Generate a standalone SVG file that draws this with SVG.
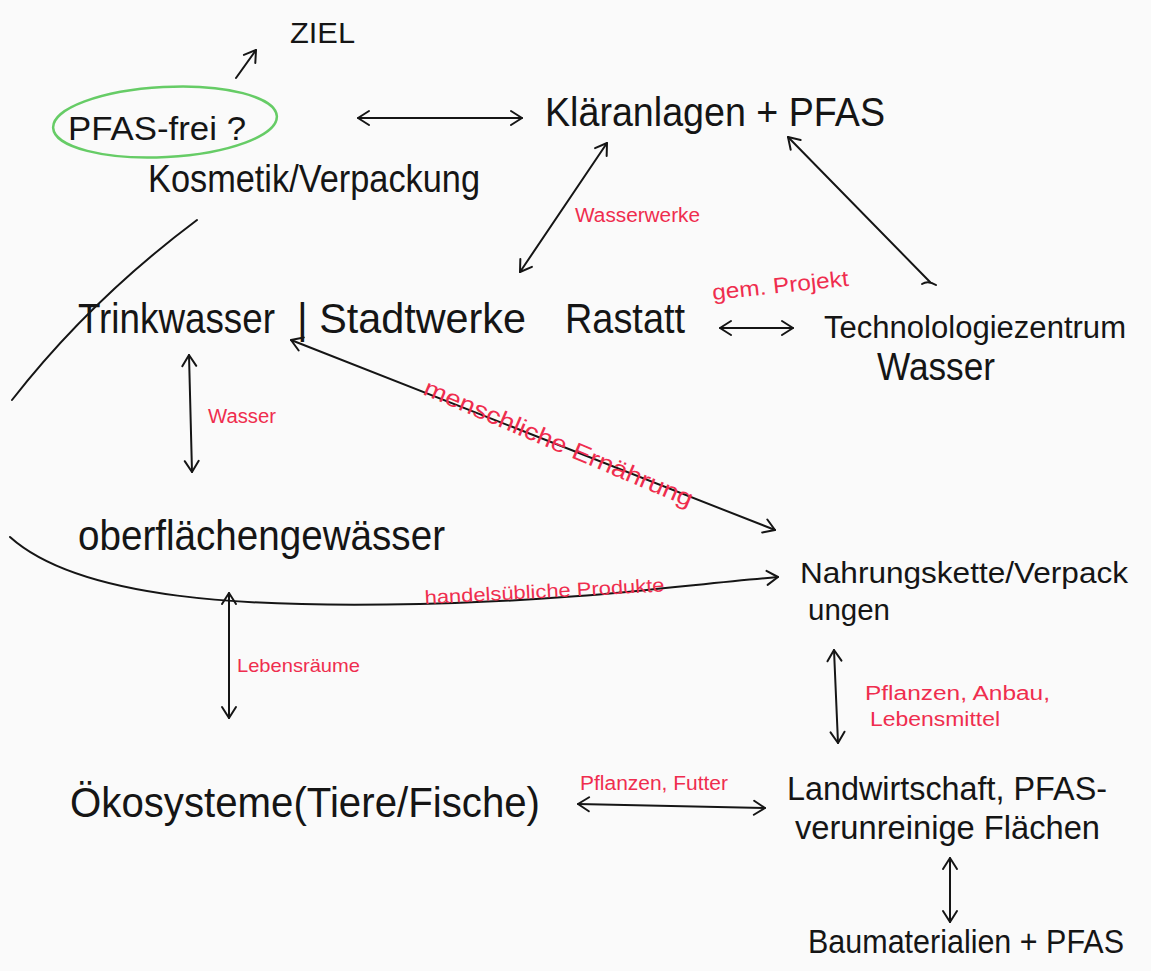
<svg xmlns="http://www.w3.org/2000/svg" width="1151" height="971" viewBox="0 0 1151 971">
<defs>
<style>
.t{font-family:"Liberation Sans","DejaVu Sans",sans-serif;fill:#151515}
.r{font-family:"Liberation Sans","DejaVu Sans",sans-serif;fill:#ef2d4e}
.c{fill:none;stroke:#151515;stroke-width:2;stroke-linecap:round}
</style>
<marker id="ah" markerUnits="userSpaceOnUse" markerWidth="18" markerHeight="18" refX="13" refY="8" orient="auto-start-reverse" viewBox="0 0 18 16">
<path d="M2,1 L13,8 L2,15" fill="none" stroke="#151515" stroke-width="2" stroke-linecap="round" stroke-linejoin="round"/>
</marker>
</defs>
<rect width="1151" height="971" fill="#fafafa"/>
<g id="connectors">
<path class="c" d="M236,78 L256,50" marker-end="url(#ah)"/>
<path class="c" d="M358,118 L522,118" marker-start="url(#ah)" marker-end="url(#ah)"/>
<path class="c" d="M520,272 L607,143" marker-start="url(#ah)" marker-end="url(#ah)"/>
<path class="c" d="M930,282 L788,137" marker-end="url(#ah)"/>
<path class="c" d="M922,284 Q928,280 936,285"/>
<path class="c" d="M720,328 L793,328" marker-start="url(#ah)" marker-end="url(#ah)"/>
<path class="c" d="M189,355 L192,472" marker-start="url(#ah)" marker-end="url(#ah)"/>
<path class="c" d="M291,340 L775,530" marker-start="url(#ah)" marker-end="url(#ah)"/>
<path class="c" d="M197,220 Q90,300 12,400"/>
<path class="c" d="M10,537 C80,600 250,608 420,604 S680,585 778,577" marker-end="url(#ah)"/>
<path class="c" d="M229,593 L229,718" marker-start="url(#ah)" marker-end="url(#ah)"/>
<path class="c" d="M578,804 L765,808" marker-start="url(#ah)" marker-end="url(#ah)"/>
<path class="c" d="M834,650 L838,743" marker-start="url(#ah)" marker-end="url(#ah)"/>
<path class="c" d="M950,858 L950,922" marker-start="url(#ah)" marker-end="url(#ah)"/>
<text class="r" x="575" y="222" font-size="20" textLength="125" lengthAdjust="spacingAndGlyphs">Wasserwerke</text>
<text class="r" x="713" y="300" font-size="22" textLength="137" lengthAdjust="spacingAndGlyphs" transform="rotate(-6 713 300)">gem. Projekt</text>
<text class="r" x="208" y="423" font-size="20" textLength="68" lengthAdjust="spacingAndGlyphs">Wasser</text>
<text class="r" x="422" y="394" font-size="24" textLength="290" lengthAdjust="spacingAndGlyphs" transform="rotate(23 422 394)">menschliche Ernährung</text>
<text class="r" x="425" y="604" font-size="19" textLength="240" lengthAdjust="spacingAndGlyphs" transform="rotate(-3 425 604)">handelsübliche Produkte</text>
<text class="r" x="237" y="672" font-size="19" textLength="123" lengthAdjust="spacingAndGlyphs">Lebensräume</text>
<text class="r" x="580" y="790" font-size="20" textLength="148" lengthAdjust="spacingAndGlyphs">Pflanzen, Futter</text>
<text class="r" x="865" y="700" font-size="20" textLength="185" lengthAdjust="spacingAndGlyphs">Pflanzen, Anbau,</text>
<text class="r" x="870" y="726" font-size="20" textLength="130" lengthAdjust="spacingAndGlyphs">Lebensmittel</text>
</g>
<g id="ziel"><text class="t" x="290" y="43" font-size="30" textLength="65" lengthAdjust="spacingAndGlyphs">ZIEL</text></g>
<g id="pfas-frei">
<ellipse cx="165" cy="122" rx="112" ry="35" fill="none" stroke="#66cc66" stroke-width="2.5" transform="rotate(-3 165 122)"/>
<text class="t" x="68" y="140" font-size="34" textLength="178" lengthAdjust="spacingAndGlyphs">PFAS-frei ?</text>
</g>
<g id="kosmetik"><text class="t" x="148" y="192" font-size="38" textLength="332" lengthAdjust="spacingAndGlyphs">Kosmetik/Verpackung</text></g>
<g id="klaeranlagen"><text class="t" x="545" y="126" font-size="40" textLength="340" lengthAdjust="spacingAndGlyphs">Kläranlagen + PFAS</text></g>
<g id="trinkwasser">
<text class="t" x="78" y="333" font-size="42" textLength="197" lengthAdjust="spacingAndGlyphs">Trinkwasser</text>
<text class="t" x="297" y="333" font-size="42" textLength="229" lengthAdjust="spacingAndGlyphs">| Stadtwerke</text>
<text class="t" x="565" y="333" font-size="42" textLength="120" lengthAdjust="spacingAndGlyphs">Rastatt</text>
</g>
<g id="technologiezentrum">
<text class="t" x="824" y="338" font-size="31" textLength="302" lengthAdjust="spacingAndGlyphs">Technolologiezentrum</text>
<text class="t" x="877" y="380" font-size="38" textLength="118" lengthAdjust="spacingAndGlyphs">Wasser</text>
</g>
<g id="oberflaechengewaesser"><text class="t" x="78" y="550" font-size="42" textLength="367" lengthAdjust="spacingAndGlyphs">oberflächengewässer</text></g>
<g id="nahrungskette">
<text class="t" x="800" y="583" font-size="30" textLength="328" lengthAdjust="spacingAndGlyphs">Nahrungskette/Verpack</text>
<text class="t" x="808" y="620" font-size="30" textLength="82" lengthAdjust="spacingAndGlyphs">ungen</text>
</g>
<g id="oekosysteme"><text class="t" x="70" y="817" font-size="42" textLength="470" lengthAdjust="spacingAndGlyphs">Ökosysteme(Tiere/Fische)</text></g>
<g id="landwirtschaft">
<text class="t" x="787" y="800" font-size="33" textLength="320" lengthAdjust="spacingAndGlyphs">Landwirtschaft, PFAS-</text>
<text class="t" x="795" y="839" font-size="34" textLength="305" lengthAdjust="spacingAndGlyphs">verunreinige Flächen</text>
</g>
<g id="baumaterialien"><text class="t" x="808" y="953" font-size="33" textLength="316" lengthAdjust="spacingAndGlyphs">Baumaterialien + PFAS</text></g>
</svg>
